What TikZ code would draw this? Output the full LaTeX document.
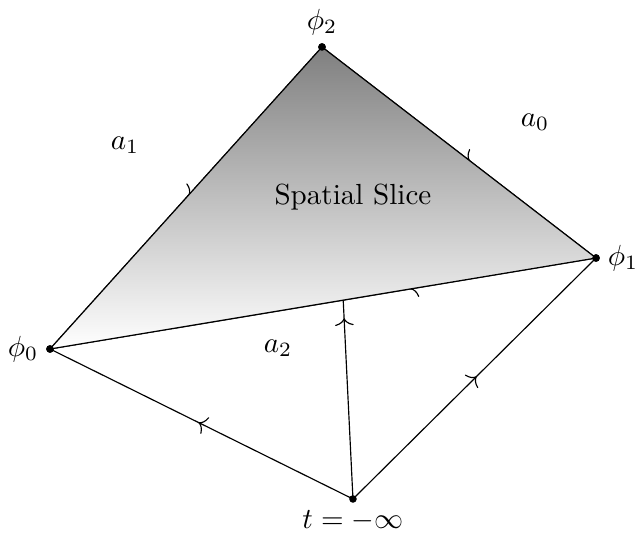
\documentclass[tikz,border=0pt]{standalone}
\usetikzlibrary{arrows.meta,decorations.markings,calc}

\begin{document}
\begin{tikzpicture}[
  vtx/.style={circle, fill=black, inner sep=0pt, minimum size=2.6pt},
  flow/.style={postaction={decorate}, decoration={markings,
      mark=at position #1 with {\arrow{Computer Modern Rightarrow[length=2.6pt,width=6.4pt]}}}},
  flow/.default=0.5,
  slice/.style={top color=gray, bottom color=white}
]
\useasboundingbox (0,0) rectangle (7.695,6.439);

%% Vertices
\node[vtx, label={[label distance=-1pt]above:$\phi_2$}] (p2) at (3.890,5.871) {};
\node[vtx, label={[label distance=-1pt]right:$\phi_1$}] (p1) at (7.200,3.322) {};
\node[vtx, label={[label distance=-1pt]left:$\phi_0$}]  (p0) at (0.604,2.223) {};
\node[vtx, label={[label distance=-1pt]below:$t=-\infty$}] (t) at (4.264,0.411) {};
\coordinate (m) at ($(p0)!0.537!(p1)$);

%% Edges with orientation marks
\draw[flow=0.49] (p2.center) -- (p0.center);
\draw[flow=0.54] (p2.center) -- (p1.center);
\draw[flow=0.34] (p1.center) -- (p0.center);
\draw[flow=0.51] (t.center) -- (p0.center);
\draw[flow=0.51] (t.center) -- (p1.center);
\draw[flow=0.91] (t.center) -- (m);

%% Spatial slice on top
\shade[slice] (p0.center) -- (p2.center) -- (p1.center) -- cycle;
\draw (p0.center) -- (p2.center) -- (p1.center) -- cycle;
\foreach \v in {p0,p1,p2} { \fill (\v) circle (1.3pt); }

%% Labels
\node at (4.264,4.059) {Spatial Slice};
\node at (1.510,4.687) {$a_1$};
\node at (6.463,4.965) {$a_0$};
\node at (3.358,2.235) {$a_2$};
\end{tikzpicture}
\end{document}
